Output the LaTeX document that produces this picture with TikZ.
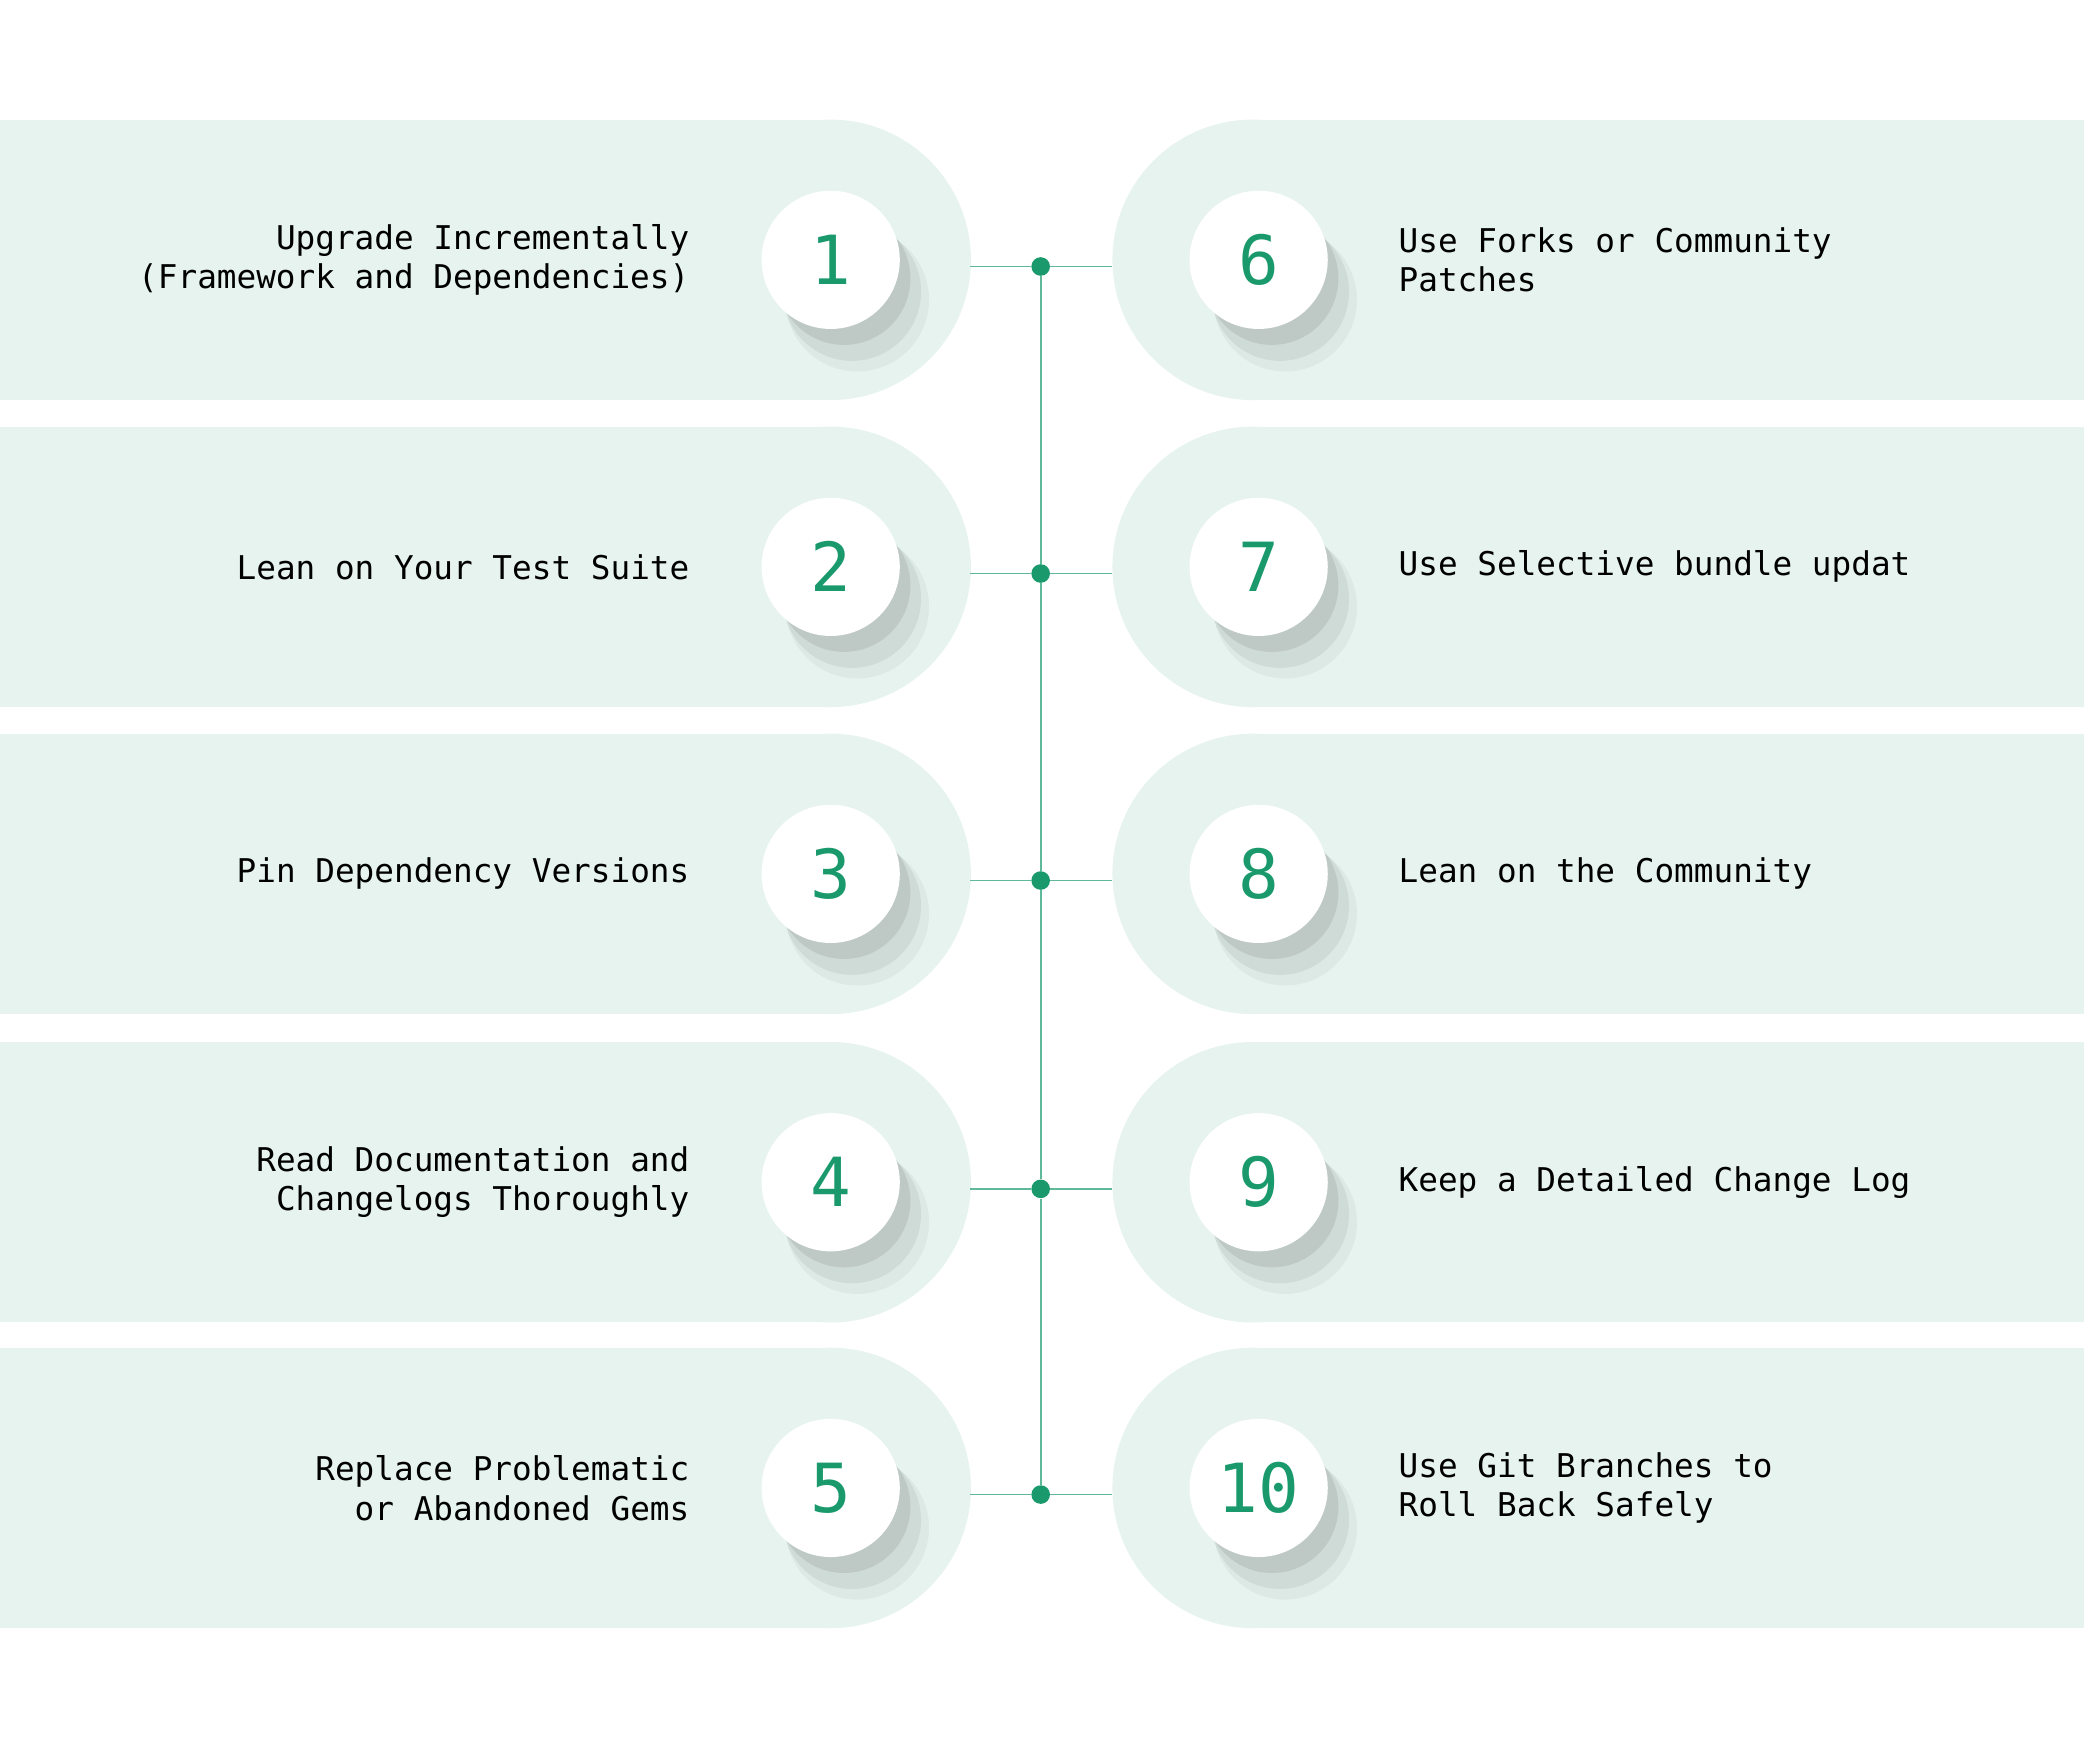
\documentclass[tikz,border=0pt]{standalone}
\usepackage{fontspec}
\setmainfont{DejaVu Sans Mono}
\usetikzlibrary{positioning}
\definecolor{band}{HTML}{E6F3EF}
\definecolor{tip}{HTML}{1A9A6C}
\tikzset{
  num/.style={circle, fill=white, minimum size=104*0.02cm, inner sep=0pt, text=tip, font=\fontsize{29}{30}\selectfont},
  lbl/.style={font=\fontsize{14}{17}\selectfont, inner sep=0pt},
  dot/.style={circle, fill=tip, minimum size=14*0.02cm, inner sep=0pt},
  link/.style={draw=tip!70, line width=0.7pt}
}
\begin{document}
\begin{tikzpicture}[x=0.02cm, y=-0.02cm]
\useasboundingbox (0,0) rectangle (1568,1309);

% bands, circles and labels
\foreach \i/\top/\ltext/\r/\rtext in {
  1/90/{Upgrade Incrementally\\(Framework and Dependencies)}/6/{Use Forks or Community\\Patches},
  2/321/{Lean on Your Test Suite}/7/{Use Selective bundle updat},
  3/552/{Pin Dependency Versions}/8/{Lean on the Community},
  4/784/{Read Documentation and\\Changelogs Thoroughly}/9/{Keep a Detailed Change Log},
  5/1014/{Replace Problematic\\or Abandoned Gems}/10/{Use Git Branches to\\Roll Back Safely}}{
  \pgfmathsetmacro{\mid}{\top+105.5}
  \fill[band] (0,\top) rectangle (625,\top+211);
  \fill[band] (625,\mid) circle (105.5);
  \fill[band] (942.5,\top) rectangle (1568,\top+211);
  \fill[band] (942.5,\mid) circle (105.5);
  % shadows
  \foreach \sx in {625,947}{
    \fill[black, opacity=0.04] (\sx+20,\mid+30) circle (54);
    \fill[black, opacity=0.06] (\sx+16,\mid+24) circle (52);
    \fill[black, opacity=0.08] (\sx+10,\mid+14) circle (50);
  }
  \node[num] (c\i) at (625,\mid) {\i};
  \node[num] (c\r) at (947,\mid) {\r};
  \node[lbl, align=right, anchor=east] (t\i) at (519,\mid) {\ltext};
  \node[lbl, align=left, anchor=west] (t\r) at (1052,\mid) {\rtext};
  \node[dot] (d\i) at (783,\mid+5) {};
  \coordinate (a\i) at (730,\mid+5);
  \coordinate (b\i) at (837,\mid+5);
  \draw[link] (a\i) -- (d\i) -- (b\i);
}

% spine
\draw[link] (d1) -- (d2) -- (d3) -- (d4) -- (d5);

\end{tikzpicture}
\end{document}
